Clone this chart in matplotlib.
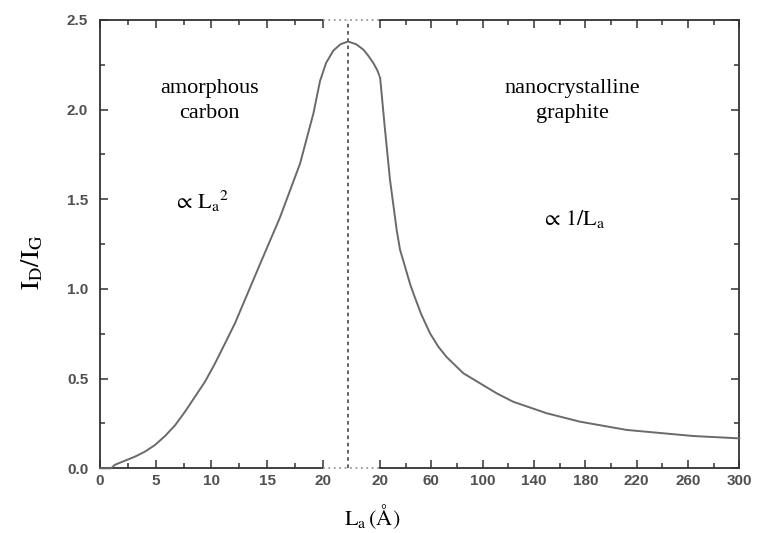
import numpy as np
import matplotlib.pyplot as plt
from matplotlib.lines import Line2D

# I_D/I_G versus crystallite size L_a (broken x axis: 0-20 A linear, then 20-300 A)
la_small = [0, 1.0, 1.35, 3.14, 4.04, 4.94, 5.84, 6.74, 7.64, 8.54, 9.43, 10.33,
            11.23, 12.13, 14.38, 16.17, 17.97, 19.17, 19.76, 20.3, 20.96, 21.6,
            22.28, 23.0, 23.65, 24.1, 24.55, 24.9, 25.15]
ratio_small = [0, 0, 0.02, 0.065, 0.093, 0.13, 0.18, 0.24, 0.316, 0.40, 0.483, 0.585,
               0.697, 0.81, 1.14, 1.40, 1.70, 1.98, 2.16, 2.26, 2.33, 2.365,
               2.38, 2.365, 2.335, 2.30, 2.26, 2.22, 2.18]

la_large = [20, 23.8, 27.7, 32.9, 35.5, 43.3, 45.9, 52.0, 58.9, 65.4, 71.9, 84.9,
            97.9, 110.9, 123.8, 149.9, 175.8, 212.2, 264.1, 300]
ratio_large = [2.18, 1.89, 1.61, 1.33, 1.22, 1.03, 0.976, 0.86, 0.753, 0.678, 0.62, 0.53,
               0.474, 0.418, 0.371, 0.307, 0.26, 0.214, 0.18, 0.167]

left_ticks = [0, 5, 10, 15, 20]
right_ticks = [20, 60, 100, 140, 180, 220, 260, 300]
y_ticks = [0.0, 0.5, 1.0, 1.5, 2.0, 2.5]

plt.rcParams['mathtext.fontset'] = 'stix'
serif = 'Liberation Serif'
spine_col = '#333333'
curve_col = '#6a6a6a'
tick_font = dict(family='Liberation Sans', size=11, color='#505050', weight='bold')

W, H = 758, 533
fig = plt.figure(figsize=(W / 100, H / 100), dpi=100)
bottom = 1 - 468.3 / H
height = 448.3 / H
ax1 = fig.add_axes([100 / W, bottom, 222.7 / W, height])
ax2 = fig.add_axes([380.1 / W, bottom, 359.2 / W, height])

for ax in (ax1, ax2):
    ax.set_ylim(0, 2.5)
    for s in ax.spines.values():
        s.set_color(spine_col)
        s.set_linewidth(1.3)
    ax.tick_params(which='both', direction='in', top=True, color=spine_col, width=1.1)
    ax.tick_params(which='major', length=6)
    ax.tick_params(which='minor', length=3.5)
    ax.set_yticks(y_ticks)
    ax.set_yticks(np.arange(0, 2.51, 0.25), minor=True)

# left part 0-20
ax1.set_xlim(0, 20)
ax1.spines['right'].set_visible(False)
ax1.set_xticks(left_ticks)
ax1.set_xticks(np.arange(0, 20.1, 2.5), minor=True)
ax1.set_xticklabels([str(t) for t in left_ticks], fontdict=tick_font)
ax1.set_yticklabels([f'{t:.1f}' for t in y_ticks], fontdict=tick_font)
ax1.tick_params(axis='y', which='both', right=False, pad=8.5)
ax1.tick_params(axis='x', pad=4)

# right part 20-300
ax2.set_xlim(20, 300)
ax2.spines['left'].set_visible(False)
ax2.set_xticks(right_ticks)
ax2.set_xticks(np.arange(20, 301, 20), minor=True)
ax2.set_xticklabels([str(t) for t in right_ticks], fontdict=tick_font)
ax2.tick_params(axis='y', which='both', left=False, right=True, labelleft=False)
ax2.tick_params(axis='x', pad=4)

ax1.plot(la_small, ratio_small, color=curve_col, lw=1.4, clip_on=False, zorder=5)
ax2.plot(la_large, ratio_large, color=curve_col, lw=1.4, clip_on=False, zorder=5)

# dashed marker at the maximum
peak_x = la_small[int(np.argmax(ratio_small))]
ax1.axvline(peak_x, color='#555555', lw=1.3, ls=(0, (2, 2)), clip_on=False)

# dotted spines across the break
x0 = ax1.get_position().x1
x1 = ax2.get_position().x0
for yy in (ax1.get_position().y0, ax1.get_position().y1):
    fig.add_artist(Line2D([x0, x1], [yy, yy], transform=fig.transFigure,
                          color='#999999', lw=1.3, ls=(0, (1, 2))))

# region annotations
ax1.text(0.49, 0.82, 'amorphous\ncarbon', transform=ax1.transAxes, ha='center',
         va='center', family=serif, fontsize=16, linespacing=1.45)
ax1.text(0.455, 0.595, r'$\propto\,\mathrm{L_a}^2$', transform=ax1.transAxes,
         ha='center', va='center', fontsize=16)
ax2.text(0.535, 0.82, 'nanocrystalline\ngraphite', transform=ax2.transAxes,
         ha='center', va='center', family=serif, fontsize=16, linespacing=1.45)
ax2.text(0.538, 0.555, r'$\propto\,1/\mathrm{L_a}$', transform=ax2.transAxes,
         ha='center', va='center', fontsize=16)

fig.text(32 / W, 1 - 262 / H, r'$\mathrm{I_D/I_G}$', rotation=90, ha='center',
         va='center', fontsize=19)
fig.text(372 / W, 1 - 517 / H, r'$\mathrm{L_a\,(\AA)}$', ha='center',
         va='center', fontsize=16)

fig.savefig('out.png', dpi=100, facecolor='white')
